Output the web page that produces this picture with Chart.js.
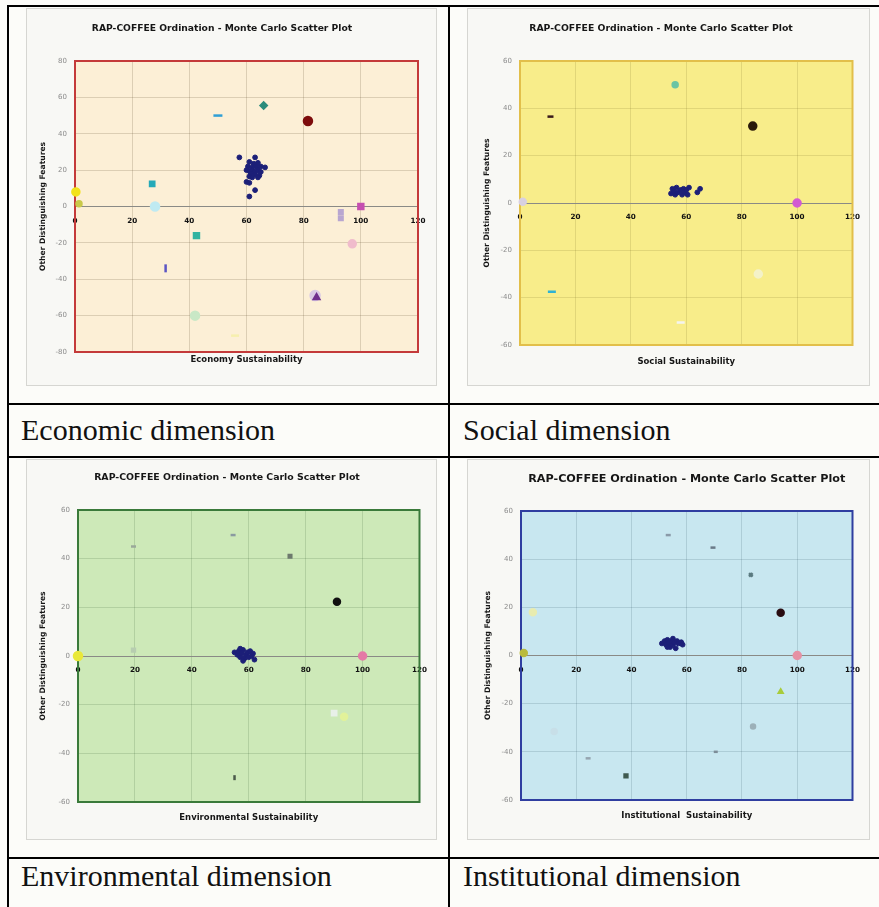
<!DOCTYPE html>
<html>
<head>
<meta charset="utf-8">
<script src="https://cdn.jsdelivr.net/npm/chart.js@4.4.0/dist/chart.umd.min.js"></script>
<style>
    body { margin: 0; width: 879px; height: 907px; position: relative; overflow: hidden; background: #fcfcf9; }
    .line { position: absolute; background: #000; }
    .panel { position: absolute; background: #f8f8f5; box-shadow: inset 0 0 0 1px #d6d6d2; }
    .panel canvas { display: block; }
    .cap { position: absolute; font-family: "Liberation Serif", "Times New Roman", serif; font-size: 30px; line-height: 30px; color: #111; white-space: nowrap; }
</style>
</head>
<body>
<!-- table rules -->
<div class="line" style="left:7px;top:5px;width:872px;height:2px"></div>
<div class="line" style="left:7px;top:5px;width:2px;height:902px"></div>
<div class="line" style="left:448px;top:5px;width:2px;height:902px"></div>
<div class="line" style="left:7px;top:403px;width:872px;height:2px"></div>
<div class="line" style="left:7px;top:456px;width:872px;height:2px"></div>
<div class="line" style="left:7px;top:857px;width:872px;height:2px"></div>

<div class="panel" style="left:26px;top:8px;width:411px;height:378px"><canvas id="ecoChart" width="411" height="378"></canvas></div>
<div class="panel" style="left:467px;top:8px;width:403px;height:378px"><canvas id="socChart" width="403" height="378"></canvas></div>
<div class="panel" style="left:26px;top:459px;width:411px;height:381px"><canvas id="envChart" width="411" height="381"></canvas></div>
<div class="panel" style="left:467px;top:459px;width:403px;height:381px"><canvas id="insChart" width="403" height="381"></canvas></div>

<div class="cap" style="left:21px;top:415px">Economic dimension</div>
<div class="cap" style="left:463px;top:415px">Social dimension</div>
<div class="cap" style="left:21px;top:861px">Environmental dimension</div>
<div class="cap" style="left:463px;top:861px">Institutional dimension</div>

<script>
var chartTitle = 'RAP-COFFEE Ordination - Monte Carlo Scatter Plot';
var yAxisTitle = 'Other Distinguishing Features';

// tick labels
var xTicks = [0, 20, 40, 60, 80, 100, 120];
var yTicksEco = [-80, -60, -40, -20, 0, 20, 40, 60, 80];
var yTicks = [-60, -40, -20, 0, 20, 40, 60];

// Economy: Monte Carlo cluster + reference/anchor points
var ecoClusterX = [57.5, 63, 61, 62.5, 64, 60.5, 62, 63.5, 65, 66.5, 60, 61, 62, 63, 64, 65, 61.5, 63, 64.5, 61, 62, 64, 60, 61, 63, 61];
var ecoClusterY = [27, 27, 24.5, 23.5, 24, 22, 21.5, 22, 22, 21.5, 20, 19.5, 20, 19, 20, 19, 18, 17.5, 17, 16.5, 16, 16, 13.5, 13, 9, 5.5];
var ecoRefX = [50, 66, 81.5, 27, 0.3, 1.4, 28, 42.5, 31.7, 42, 56, 93, 93, 100, 97, 84, 84.5];
var ecoRefY = [50, 55.5, 47, 12.5, 8, 1.5, 0, -16, -34, -60, -71, -3, -6.5, 0, -20.5, -49, -50];

// Social
var socClusterX = [54.5, 55, 55.5, 56, 56.5, 57, 58, 58.5, 59, 59.5, 60, 60.5, 61, 64, 65];
var socClusterY = [4, 6, 5, 3.5, 6.5, 4.5, 5.5, 3.5, 6, 4.5, 5.5, 3.5, 6.5, 4.5, 6];
var socRefX = [11, 56, 84, 100, 1, 11.5, 58, 86];
var socRefY = [36.5, 50, 32.5, 0, 0.5, -37.5, -50.5, -30];

// Environmental
var envClusterX = [55, 56, 56.5, 57, 57.5, 58, 58.5, 59, 59.5, 60, 60.5, 61, 61.5, 62, 58, 57];
var envClusterY = [1.5, 0.5, 2, -0.5, 1, 2.5, -1, 0.5, 1.5, -0.5, 2, 0, 1, -1.5, -2, 3];
var envRefX = [19.5, 54.5, 74.5, 91, 100, 0, 19.5, 90, 93.5, 55];
var envRefY = [45, 49.7, 41, 22.3, 0, 0, 2.4, -23.5, -25, -50];

// Institutional
var insClusterX = [51, 52, 52.5, 53, 53.5, 54, 54.5, 55, 55.5, 56, 56.5, 57, 58, 58.5, 53, 55];
var insClusterY = [5, 6, 4.5, 6.5, 5, 3.5, 6, 4.5, 5.5, 3, 6, 5, 5.5, 4.5, 3.5, 7];
var insRefX = [53.3, 69.5, 83.2, 94, 100, 1, 94, 84, 70.5, 24.3, 38, 12, 4.3];
var insRefY = [50, 44.8, 33.5, 17.8, 0, 1, -15, -29.5, -40, -42.7, -50, -31.6, 18];

// marker styles for the reference points (kept apart from the values)
var ecoRefStyle = {
    color: ['#2f9fd6', '#2b8c7c', '#7d0c0c', '#25a9b8', '#f2e21c', '#c9c94a', '#bfeaf2', '#33b3a0', '#5b55c4', '#c9e8c6', '#f6efae', '#b8a6d0', '#b8a6d0', '#c54fb0', '#f0bccc', '#d9c8e4', '#6e2d8c'],
    shape: ['line', 'rectRot', 'circle', 'rect', 'circle', 'circle', 'circle', 'rect', 'line', 'circle', 'line', 'rect', 'rect', 'rect', 'circle', 'circle', 'triangle'],
    size: [4.5, 3, 4, 3, 3.5, 2.5, 4, 3.5, 4, 4, 4, 2.5, 2.5, 3.5, 3.5, 4.5, 3],
    rot: [0, 0, 0, 0, 0, 0, 0, 0, 90, 0, 0, 0, 0, 0, 0, 0, 0]
};
var socRefStyle = {
    color: ['#3a1a1a', '#6cc4a4', '#2a1a0a', '#d35bd3', '#d8d0e0', '#2eb2d4', '#f4f4f0', '#f4f2c8'],
    shape: ['line', 'circle', 'circle', 'circle', 'circle', 'line', 'line', 'circle'],
    size: [3, 2.5, 3.5, 3.5, 3, 4, 4, 3.5],
    rot: [0, 0, 0, 0, 0, 0, 0, 0]
};
var envRefStyle = {
    color: ['#9aa89a', '#8a9aa0', '#6d7a6d', '#111111', '#e47aa6', '#e9e83a', '#b7cdb0', '#e8f0e8', '#e2f29a', '#4a5a4a'],
    shape: ['line', 'line', 'rect', 'circle', 'circle', 'circle', 'rect', 'rect', 'circle', 'line'],
    size: [2.5, 2.5, 1.8, 3, 3.5, 4, 2, 3, 3, 2.5],
    rot: [0, 0, 0, 0, 0, 0, 0, 0, 0, 90]
};
var insRefStyle = {
    color: ['#8a9aa8', '#6a7a88', '#5a7a80', '#2a0d12', '#e691a4', '#b9bb3e', '#a8cc3c', '#9cb0b8', '#7d8d98', '#95a5b0', '#3f5a50', '#c8dfe8', '#e8ecb0'],
    shape: ['line', 'line', 'crossRot', 'circle', 'circle', 'circle', 'triangle', 'circle', 'line', 'line', 'rect', 'circle', 'circle'],
    size: [2.5, 2.5, 2.5, 3, 3.5, 3, 2, 2, 2, 2.5, 2, 2.5, 3],
    rot: [0, 0, 0, 0, 0, 0, 0, 0, 0, 0, 0, 0, 0]
};

var FONT = '"DejaVu Sans", Verdana, sans-serif';

// fills the plot area and draws the coloured frame round it
var plotFrame = {
    id: 'plotFrame',
    beforeDraw: function (chart, args, opts) {
        var a = chart.chartArea, ctx = chart.ctx;
        ctx.save();
        ctx.fillStyle = opts.fill;
        ctx.fillRect(a.left, a.top, a.right - a.left, a.bottom - a.top);
        ctx.restore();
    },
    beforeDatasetsDraw: function (chart, args, opts) {
        var a = chart.chartArea, ctx = chart.ctx;
        ctx.save();
        ctx.strokeStyle = opts.border;
        ctx.lineWidth = 2;
        ctx.strokeRect(a.left, a.top, a.right - a.left, a.bottom - a.top);
        ctx.restore();
    }
};

function pts(xs, ys) {
    return xs.map(function (x, i) { return { x: x, y: ys[i] }; });
}

function makePanel(id, cfg) {
    var canvas = document.getElementById(id);
    var W = canvas.width, H = canvas.height;
    var g = cfg.geo;
    var tLH = cfg.titleSize * 1.2;
    var xLH = 8.5 * 1.2;
    var yLH = 7.6 * 1.2;
    var subTop = g.xTitleY - g.bottom - xLH / 2;

    return new Chart(canvas.getContext('2d'), {
        type: 'scatter',
        data: {
            datasets: [{
                data: pts(cfg.clusterX, cfg.clusterY),
                backgroundColor: '#1c1f78',
                borderColor: '#1c1f78',
                pointRadius: 2.4,
                pointStyle: 'circle',
                clip: false
            }, {
                data: pts(cfg.refX, cfg.refY),
                backgroundColor: cfg.style.color,
                borderColor: cfg.style.color,
                pointStyle: cfg.style.shape,
                pointRadius: cfg.style.size,
                pointRotation: cfg.style.rot,
                pointBorderWidth: 2.5,
                clip: false
            }]
        },
        options: {
            responsive: false,
            animation: false,
            events: [],
            layout: {
                padding: { left: 0, top: 0, right: W - g.right, bottom: H - g.bottom - subTop - xLH }
            },
            plugins: {
                legend: { display: false },
                tooltip: { enabled: false },
                title: {
                    display: true,
                    text: chartTitle,
                    fullSize: cfg.titleFull,
                    color: '#161616',
                    font: { family: FONT, size: cfg.titleSize, weight: 'bold' },
                    padding: { top: g.titleY - tLH / 2, bottom: g.top - g.titleY - tLH / 2 }
                },
                subtitle: {
                    display: true,
                    position: 'bottom',
                    fullSize: false,
                    text: cfg.xTitle,
                    color: '#161616',
                    font: { family: FONT, size: 8.5, weight: 'bold' },
                    padding: { top: subTop, bottom: 0 }
                },
                plotFrame: { fill: cfg.fill, border: cfg.border }
            },
            scales: {
                x: {
                    type: 'linear',
                    position: { y: 0 },
                    min: xTicks[0],
                    max: xTicks[xTicks.length - 1],
                    afterBuildTicks: function (s) { s.ticks = xTicks.map(function (v) { return { value: v }; }); },
                    afterFit: function (s) { s.height = 0; },
                    grid: { color: cfg.grid, drawTicks: false },
                    border: { color: '#8a8a86', width: 1 },
                    ticks: { color: '#111', padding: 10, font: { family: FONT, size: 7.2, weight: 'bold' } }
                },
                y: {
                    type: 'linear',
                    min: cfg.yTicks[0],
                    max: cfg.yTicks[cfg.yTicks.length - 1],
                    afterBuildTicks: function (s) { s.ticks = cfg.yTicks.map(function (v) { return { value: v }; }); },
                    afterFit: function (s) { s.width = g.left; },
                    grid: { color: cfg.grid, drawTicks: false },
                    border: { display: false },
                    ticks: { color: '#8c8c8c', padding: 8, font: { family: FONT, size: 7 } },
                    title: {
                        display: true,
                        text: yAxisTitle,
                        color: '#161616',
                        font: { family: FONT, size: 7.6, weight: 'bold' },
                        padding: { top: g.yTitleX - yLH / 2, bottom: 0 }
                    }
                }
            }
        },
        plugins: [plotFrame]
    });
}

makePanel('ecoChart', {
    clusterX: ecoClusterX, clusterY: ecoClusterY, refX: ecoRefX, refY: ecoRefY, style: ecoRefStyle,
    yTicks: yTicksEco, xTitle: 'Economy Sustainability',
    fill: '#fcefd6', border: '#c43a3a', grid: 'rgba(110,90,60,0.22)',
    titleSize: 9.2, titleFull: true,
    geo: { left: 49, right: 392, top: 53, bottom: 344, titleY: 21, xTitleY: 352, yTitleX: 17 }
});

makePanel('socChart', {
    clusterX: socClusterX, clusterY: socClusterY, refX: socRefX, refY: socRefY, style: socRefStyle,
    yTicks: yTicks, xTitle: 'Social Sustainability',
    fill: '#f8ed8a', border: '#e2bf4a', grid: 'rgba(120,110,40,0.18)',
    titleSize: 9.3, titleFull: true,
    geo: { left: 53, right: 388, top: 53, bottom: 337, titleY: 21, xTitleY: 354, yTitleX: 20 }
});

makePanel('envChart', {
    clusterX: envClusterX, clusterY: envClusterY, refX: envRefX, refY: envRefY, style: envRefStyle,
    yTicks: yTicks, xTitle: 'Environmental Sustainability',
    fill: '#cde9b8', border: '#3a7a3a', grid: 'rgba(40,80,40,0.16)',
    titleSize: 9.4, titleFull: true,
    geo: { left: 52, right: 402, top: 51, bottom: 343, titleY: 19, xTitleY: 359, yTitleX: 17 }
});

makePanel('insChart', {
    clusterX: insClusterX, clusterY: insClusterY, refX: insRefX, refY: insRefY, style: insRefStyle,
    yTicks: yTicks, xTitle: 'Institutional  Sustainability',
    fill: '#c8e7f0', border: '#2f3ea0', grid: 'rgba(40,70,90,0.16)',
    titleSize: 11.2, titleFull: false,
    geo: { left: 54, right: 395, top: 52, bottom: 341, titleY: 20, xTitleY: 357, yTitleX: 21 }
});
</script>
</body>
</html>
